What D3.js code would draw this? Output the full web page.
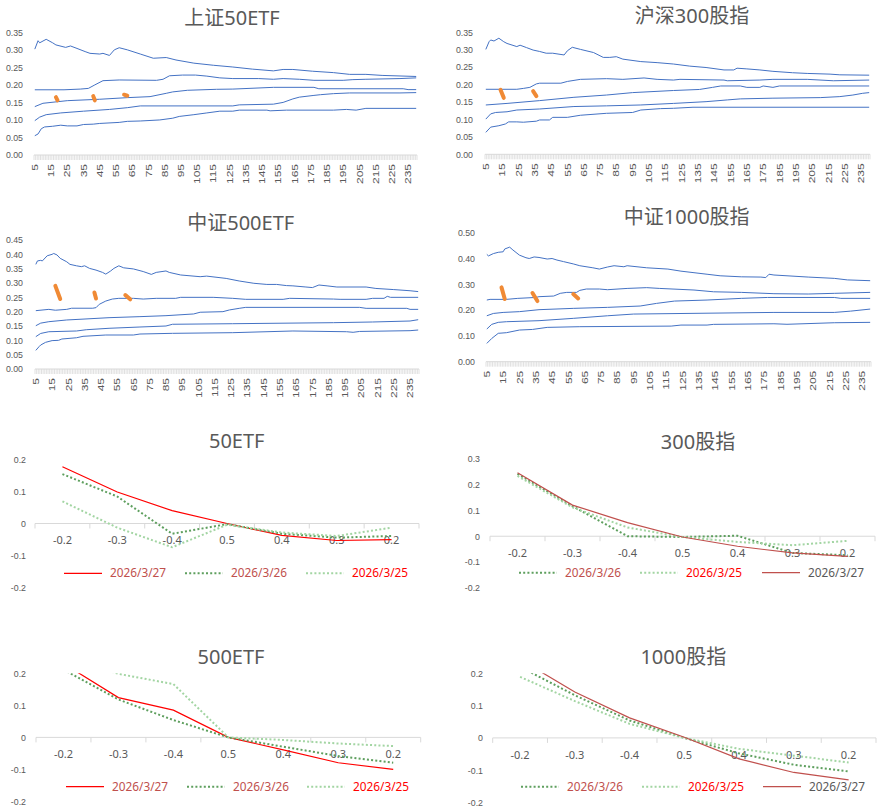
<!DOCTYPE html>
<html>
<head>
<meta charset="utf-8">
<script src="https://cdn.jsdelivr.net/npm/d3@7"></script>
<style>
  html, body { margin: 0; padding: 0; background: #fff; }
  svg { display: block; font-family: "Noto Sans", "Noto Sans CJK SC", sans-serif; }
  text { fill: #595959; }
</style>
</head>
<body>
<svg id="chart" width="881" height="811"></svg>
<script>
// ---- surface charts: [day, vol] pairs ----
const sz50Max = [[5,0.302],[7,0.326],[8,0.32],[12,0.33],[16,0.32],[18,0.314],[24,0.307],[27,0.311],[31,0.304],[36,0.295],[39,0.29],[45,0.288],[47,0.29],[51,0.284],[54,0.30],[57,0.306],[62,0.30],[70,0.288],[78,0.276],[86,0.278],[92,0.271],[103,0.262],[115,0.256],[127,0.251],[139,0.245],[152,0.24],[158,0.244],[164,0.244],[176,0.239],[189,0.235],[199,0.23],[209,0.23],[219,0.227],[240,0.224]];
const sz50Q75 = [[5,0.186],[23,0.186],[33,0.188],[38,0.19],[42,0.20],[47,0.212],[57,0.214],[80,0.213],[84,0.216],[88,0.226],[96,0.228],[104,0.228],[111,0.225],[119,0.22],[127,0.218],[143,0.218],[152,0.216],[158,0.218],[168,0.216],[177,0.213],[195,0.213],[201,0.215],[209,0.216],[230,0.218],[240,0.22]];
const sz50Mid = [[5,0.138],[10,0.1475],[25,0.155],[45,0.159],[62,0.1636],[76,0.1665],[86,0.176],[90,0.18],[99,0.1846],[117,0.1874],[127,0.188],[152,0.193],[177,0.193],[180,0.189],[232,0.189],[235,0.1865],[240,0.1865]];
const sz50Q25 = [[5,0.098],[8,0.108],[12,0.115],[21,0.12],[35,0.125],[51,0.13],[62,0.135],[70,0.14],[127,0.14],[131,0.143],[152,0.145],[158,0.15],[164,0.16],[168,0.165],[177,0.17],[181,0.172],[189,0.175],[199,0.177],[230,0.177],[240,0.178]];
const sz50Min = [[5,0.055],[7,0.06],[9,0.075],[11,0.08],[16,0.082],[21,0.085],[25,0.083],[31,0.083],[35,0.087],[41,0.088],[45,0.09],[57,0.093],[62,0.096],[70,0.097],[82,0.1],[90,0.105],[94,0.11],[103,0.115],[111,0.12],[119,0.125],[127,0.125],[131,0.128],[148,0.128],[150,0.126],[160,0.128],[189,0.128],[197,0.13],[203,0.128],[209,0.133],[240,0.133]];
const sz50Now = [[[18,0.165],[19,0.156]], [[41,0.168],[42,0.156]], [[60,0.172],[62,0.169]]];

const hs300Max = [[5,0.301],[7,0.323],[8,0.328],[10,0.325],[13,0.333],[16,0.323],[18,0.318],[24,0.309],[26,0.313],[30,0.306],[34,0.299],[38,0.295],[42,0.29],[46,0.29],[53,0.285],[55,0.297],[58,0.307],[63,0.301],[71,0.292],[77,0.278],[81,0.278],[85,0.28],[89,0.273],[100,0.266],[110,0.263],[120,0.259],[130,0.253],[140,0.249],[151,0.242],[157,0.242],[159,0.247],[165,0.245],[173,0.242],[181,0.238],[193,0.234],[202,0.232],[216,0.23],[222,0.228],[240,0.227]];
const hs300Q75 = [[5,0.1865],[24,0.1865],[28,0.189],[32,0.192],[36,0.202],[38,0.204],[51,0.204],[55,0.209],[63,0.215],[79,0.217],[89,0.215],[102,0.219],[110,0.215],[120,0.213],[124,0.215],[151,0.213],[153,0.211],[173,0.213],[181,0.215],[202,0.215],[218,0.211],[240,0.213]];
const hs300Mid = [[5,0.1415],[18,0.146],[38,0.154],[59,0.1635],[79,0.17],[95,0.177],[120,0.183],[136,0.186],[144,0.192],[149,0.196],[161,0.196],[165,0.192],[173,0.192],[175,0.196],[181,0.192],[185,0.196],[240,0.196]];
const hs300Q25 = [[5,0.101],[8,0.116],[11,0.12],[18,0.122],[24,0.127],[38,0.13],[59,0.137],[79,0.139],[100,0.1415],[120,0.146],[140,0.151],[153,0.156],[161,0.159],[181,0.161],[210,0.1626],[222,0.1655],[230,0.17],[236,0.175],[240,0.177]];
const hs300Min = [[5,0.063],[8,0.078],[13,0.082],[17,0.087],[19,0.093],[24,0.093],[28,0.092],[36,0.095],[38,0.0985],[44,0.0985],[46,0.106],[55,0.106],[63,0.112],[79,0.1176],[95,0.12],[100,0.127],[112,0.131],[120,0.132],[132,0.135],[240,0.135]];
const hs300Now = [[[14,0.185],[16,0.162]], [[34,0.181],[36,0.167]]];

const zz500Max = [[5,0.365],[6,0.377],[8,0.379],[9,0.377],[12,0.395],[15,0.4],[16,0.403],[18,0.398],[20,0.386],[24,0.374],[26,0.365],[30,0.36],[33,0.357],[35,0.36],[38,0.351],[42,0.345],[46,0.337],[48,0.331],[51,0.342],[53,0.351],[56,0.36],[59,0.353],[65,0.349],[71,0.34],[76,0.33],[79,0.337],[85,0.342],[87,0.337],[94,0.328],[106,0.322],[110,0.324],[122,0.316],[130,0.307],[139,0.299],[147,0.295],[153,0.295],[159,0.291],[163,0.29],[171,0.286],[175,0.284],[179,0.293],[184,0.29],[190,0.286],[208,0.286],[214,0.281],[225,0.277],[235,0.273],[240,0.27]];
const zz500Q75 = [[5,0.2035],[13,0.208],[17,0.205],[24,0.208],[27,0.212],[40,0.212],[42,0.214],[44,0.2256],[48,0.237],[52,0.244],[56,0.2465],[65,0.2465],[71,0.244],[79,0.2465],[91,0.2465],[94,0.25],[114,0.25],[126,0.2465],[134,0.243],[157,0.243],[161,0.2465],[188,0.244],[192,0.243],[208,0.243],[212,0.2465],[219,0.2465],[221,0.2535],[223,0.25],[240,0.25]];
const zz500Mid = [[5,0.151],[8,0.16],[13,0.165],[24,0.171],[34,0.174],[50,0.179],[69,0.1826],[85,0.186],[102,0.192],[106,0.198],[120,0.2],[124,0.206],[130,0.2116],[134,0.215],[204,0.215],[208,0.2116],[233,0.2116],[235,0.208],[240,0.208]];
const zz500Q25 = [[5,0.1128],[8,0.124],[13,0.13],[30,0.1326],[36,0.137],[50,0.142],[69,0.1465],[85,0.15],[89,0.156],[126,0.158],[188,0.1616],[212,0.164],[235,0.1674],[240,0.172]];
const zz500Min = [[5,0.065],[7,0.078],[8,0.0837],[11,0.093],[15,0.099],[19,0.1],[21,0.1046],[30,0.109],[34,0.114],[48,0.1186],[65,0.1186],[69,0.122],[89,0.1244],[126,0.1267],[163,0.1326],[196,0.13],[200,0.128],[204,0.131],[235,0.1337],[240,0.136]];
const zz500Now = [[[17,0.29],[20,0.244]], [[41,0.267],[42,0.246]], [[60,0.258],[63,0.243]]];

const zz1000Max = [[5,0.416],[6,0.41],[9,0.419],[12,0.424],[15,0.426],[16,0.437],[19,0.444],[21,0.433],[25,0.413],[29,0.403],[31,0.40],[34,0.406],[37,0.404],[42,0.398],[45,0.40],[48,0.394],[52,0.388],[58,0.379],[62,0.372],[70,0.364],[74,0.359],[79,0.367],[83,0.372],[89,0.368],[91,0.372],[103,0.364],[116,0.359],[124,0.351],[132,0.345],[140,0.339],[148,0.333],[161,0.329],[173,0.328],[176,0.326],[178,0.339],[181,0.336],[189,0.333],[202,0.328],[218,0.323],[226,0.317],[240,0.314]];
const zz1000Q75 = [[5,0.239],[7,0.2416],[17,0.2416],[24,0.2455],[35,0.249],[37,0.252],[46,0.2545],[50,0.265],[54,0.2687],[60,0.2687],[62,0.2765],[66,0.2817],[74,0.2817],[79,0.279],[91,0.284],[103,0.287],[111,0.284],[132,0.2778],[144,0.271],[161,0.2687],[181,0.2636],[202,0.2623],[218,0.265],[240,0.2687]];
const zz1000Mid = [[5,0.178],[9,0.187],[15,0.191],[25,0.194],[37,0.2016],[58,0.2067],[79,0.2106],[99,0.2158],[109,0.226],[120,0.235],[140,0.239],[161,0.2455],[177,0.249],[218,0.249],[222,0.2455],[240,0.2455]];
const zz1000Q25 = [[5,0.1266],[8,0.1447],[12,0.1525],[17,0.155],[37,0.159],[58,0.168],[79,0.178],[95,0.1847],[181,0.191],[218,0.191],[228,0.196],[240,0.204]];
const zz1000Min = [[5,0.071],[8,0.09],[12,0.11],[17,0.1124],[25,0.1227],[33,0.125],[42,0.133],[62,0.1357],[118,0.138],[124,0.142],[140,0.142],[144,0.1447],[181,0.147],[189,0.145],[218,0.151],[240,0.1525]];
const zz1000Now = [[[14,0.288],[16,0.243]], [[33,0.266],[36,0.235]], [[58,0.262],[61,0.245]]];

const dayCats = d3.range(5, 241);
const dayLabels = d3.range(5, 236, 10);

// ---- smile charts ----
const strikeLabels = ["-0.2", "-0.3", "-0.4", "0.5", "0.4", "0.3", "0.2"];
const etf50_0327 = [0.177, 0.098, 0.04, 0, -0.037, -0.053, -0.05];
const etf50_0326 = [0.154, 0.084, -0.032, -0.002, -0.032, -0.044, -0.039];
const etf50_0325 = [0.069, -0.013, -0.074, -0.004, -0.028, -0.039, -0.013];
const idx300_0326 = [0.242, 0.117, 0.0, -0.003, 0.002, -0.065, -0.074];
const idx300_0325 = [0.234, 0.112, 0.034, -0.003, -0.022, -0.035, -0.018];
const idx300_0327 = [0.247, 0.121, 0.053, -0.003, -0.039, -0.065, -0.078];
const etf500_0327 = [0.23, 0.124, 0.085, 0, -0.039, -0.079, -0.0995];
const etf500_0326 = [0.211, 0.118, 0.054, 0, -0.029, -0.058, -0.079];
const etf500_0325 = [0.25, 0.198, 0.166, 0, -0.008, -0.019, -0.027];
const idx1000_0326 = [0.22, 0.132, 0.054, 0, -0.048, -0.083, -0.104];
const idx1000_0325 = [0.189, 0.114, 0.0435, 0, -0.034, -0.055, -0.076];
const idx1000_0327 = [0.243, 0.142, 0.062, 0.002, -0.065, -0.107, -0.13];

const BLUE = "#4472C4", ORANGE = "#F08A35";
const RED = "#FF0000", DUSK = "#C0504D", DKGREEN = "#5E9F5E", LTGREEN = "#A3D5A3";
const AXIS = "#d9d9d9";

const svg = d3.select("#chart");

const surfaces = [
  {title: "上证50ETF", tx: 232, ty: 18, x0: 34, x1: 417, yBase: 155, yTop: 32.3, yMax: 0.35,
   ticks: d3.range(0, 0.351, 0.05), labelRight: 23,
   lines: [sz50Max, sz50Q75, sz50Mid, sz50Q25, sz50Min], now: sz50Now},
  {title: "沪深300股指", tx: 692, ty: 16, x0: 485, x1: 870, yBase: 154.3, yTop: 32.3, yMax: 0.35,
   ticks: d3.range(0, 0.351, 0.05), labelRight: 473,
   lines: [hs300Max, hs300Q75, hs300Mid, hs300Q25, hs300Min], now: hs300Now},
  {title: "中证500ETF", tx: 240.7, ty: 223, x0: 35, x1: 419, yBase: 369, yTop: 240, yMax: 0.45,
   ticks: d3.range(0, 0.451, 0.05), labelRight: 23,
   lines: [zz500Max, zz500Q75, zz500Mid, zz500Q25, zz500Min], now: zz500Now},
  {title: "中证1000股指", tx: 686.7, ty: 216.5, x0: 486, x1: 871, yBase: 361.7, yTop: 232.7, yMax: 0.5,
   ticks: d3.range(0, 0.501, 0.1), labelRight: 475,
   lines: [zz1000Max, zz1000Q75, zz1000Mid, zz1000Q25, zz1000Min], now: zz1000Now}
];

const smiles = [
  {title: "50ETF", tx: 236.7, ty: 440.5, x0: 35, x1: 419, yTop: 459.3, yBottom: 587.7, yDomain: [-0.2, 0.2],
   labelRight: 26, legendY: 573.3, legendX: [64, 185, 306],
   series: [
     {name: "2026/3/27", values: etf50_0327, color: RED, dotted: false, text: DUSK},
     {name: "2026/3/26", values: etf50_0326, color: DKGREEN, dotted: true, text: DUSK},
     {name: "2026/3/25", values: etf50_0325, color: LTGREEN, dotted: true, text: RED}]},
  {title: "300股指", tx: 698, ty: 442, x0: 490, x1: 875, yTop: 459, yBottom: 587.7, yDomain: [-0.2, 0.3],
   labelRight: 480, legendY: 572.7, legendX: [519, 640, 762],
   series: [
     {name: "2026/3/26", values: idx300_0326, color: DKGREEN, dotted: true, text: DUSK},
     {name: "2026/3/25", values: idx300_0325, color: LTGREEN, dotted: true, text: RED},
     {name: "2026/3/27", values: idx300_0327, color: DUSK, dotted: false, text: "#595959"}]},
  {title: "500ETF", tx: 231, ty: 656.7, x0: 36, x1: 420.7, yTop: 673.2, yBottom: 801.6, yDomain: [-0.2, 0.2],
   labelRight: 26, legendY: 786.7, legendX: [66, 187, 307],
   series: [
     {name: "2026/3/27", values: etf500_0327, color: RED, dotted: false, text: DUSK},
     {name: "2026/3/26", values: etf500_0326, color: DKGREEN, dotted: true, text: DUSK},
     {name: "2026/3/25", values: etf500_0325, color: LTGREEN, dotted: true, text: RED}]},
  {title: "1000股指", tx: 683.3, ty: 656.7, x0: 492.7, x1: 876, yTop: 673.3, yBottom: 802.5, yDomain: [-0.2, 0.2],
   labelRight: 483, legendY: 786.7, legendX: [521, 642, 763],
   series: [
     {name: "2026/3/26", values: idx1000_0326, color: DKGREEN, dotted: true, text: DUSK},
     {name: "2026/3/25", values: idx1000_0325, color: LTGREEN, dotted: true, text: RED},
     {name: "2026/3/27", values: idx1000_0327, color: DUSK, dotted: false, text: "#595959"}]}
];

function drawSurface(cfg) {
  const g = svg.append("g");
  const x = d3.scaleBand().domain(dayCats).range([cfg.x0, cfg.x1]);
  const y = d3.scaleLinear().domain([0, cfg.yMax]).range([cfg.yBase, cfg.yTop]);
  const cx = c => x(c) + x.bandwidth() / 2;

  g.append("text")
    .attr("x", cfg.tx).attr("y", cfg.ty).attr("dy", "0.35em")
    .attr("text-anchor", "middle").style("font-size", "20px")
    .text(cfg.title);

  const yAxis = g.append("g")
    .attr("transform", `translate(${cfg.labelRight + 4},0)`)
    .call(d3.axisLeft(y).tickValues(cfg.ticks).tickFormat(d3.format(".2f")).tickSize(0).tickPadding(4));
  yAxis.select(".domain").remove();
  yAxis.selectAll("text").style("font-size", "8.8px").attr("fill", "#595959");

  // category axis: light line with a tick at each category boundary
  g.append("line")
    .attr("x1", cfg.x0).attr("x2", cfg.x1).attr("y1", cfg.yBase).attr("y2", cfg.yBase)
    .attr("stroke", AXIS);
  g.append("g").selectAll("line")
    .data(dayCats.concat([null]))
    .join("line")
    .attr("x1", d => d === null ? cfg.x1 : x(d))
    .attr("x2", d => d === null ? cfg.x1 : x(d))
    .attr("y1", cfg.yBase).attr("y2", cfg.yBase + 5)
    .attr("stroke", AXIS).attr("stroke-width", 0.8);

  const xAxis = g.append("g")
    .attr("transform", `translate(0,${cfg.yBase})`)
    .call(d3.axisBottom(x).tickValues(dayLabels).tickSize(0));
  xAxis.select(".domain").remove();
  xAxis.selectAll("text")
    .attr("transform", "rotate(-90) scale(1.2,0.9)")
    .attr("text-anchor", "end")
    .attr("x", -7.5).attr("y", 0).attr("dy", "0.35em")
    .style("font-size", "10px").attr("fill", "#595959");

  const line = d3.line().x(d => cx(d[0])).y(d => y(d[1]));
  g.append("g").selectAll("path")
    .data(cfg.lines)
    .join("path")
    .attr("d", line)
    .attr("fill", "none").attr("stroke", BLUE).attr("stroke-width", 1);

  g.append("g").selectAll("path")
    .data(cfg.now)
    .join("path")
    .attr("d", line)
    .attr("fill", "none").attr("stroke", ORANGE)
    .attr("stroke-width", 4).attr("stroke-linecap", "round");
}

function drawSmile(cfg, idx) {
  const g = svg.append("g");
  const x = d3.scaleBand().domain(strikeLabels).range([cfg.x0, cfg.x1]);
  const y = d3.scaleLinear().domain(cfg.yDomain).range([cfg.yBottom, cfg.yTop]);
  const y0 = y(0);

  g.append("text")
    .attr("x", cfg.tx).attr("y", cfg.ty).attr("dy", "0.35em")
    .attr("text-anchor", "middle").style("font-size", "20px")
    .text(cfg.title);

  const yTicks = d3.range(Math.round(cfg.yDomain[0] * 10), Math.round(cfg.yDomain[1] * 10) + 1).map(d => d / 10);
  const yAxis = g.append("g")
    .attr("transform", `translate(${cfg.labelRight + 4},0)`)
    .call(d3.axisLeft(y).tickValues(yTicks)
      .tickFormat(d => d === 0 ? "0" : d.toFixed(1)).tickSize(0).tickPadding(4));
  yAxis.select(".domain").remove();
  yAxis.selectAll("text").style("font-size", "8.8px").attr("fill", "#595959");

  g.append("line")
    .attr("x1", cfg.x0).attr("x2", cfg.x1).attr("y1", y0).attr("y2", y0)
    .attr("stroke", AXIS);
  g.append("g").selectAll("line")
    .data(strikeLabels.concat([null]))
    .join("line")
    .attr("x1", d => d === null ? cfg.x1 : x(d))
    .attr("x2", d => d === null ? cfg.x1 : x(d))
    .attr("y1", y0).attr("y2", y0 + 5)
    .attr("stroke", AXIS);

  g.append("g").selectAll("text")
    .data(strikeLabels)
    .join("text")
    .attr("x", d => x(d) + x.bandwidth() / 2)
    .attr("y", y0 + 17).attr("dy", "0.35em")
    .attr("text-anchor", "middle").style("font-size", "11px")
    .text(d => d);

  const clipId = "clip" + idx;
  g.append("clipPath").attr("id", clipId)
    .append("rect")
    .attr("x", cfg.x0).attr("y", cfg.yTop)
    .attr("width", cfg.x1 - cfg.x0).attr("height", cfg.yBottom - cfg.yTop);

  const line = d3.line()
    .x((d, i) => x(strikeLabels[i]) + x.bandwidth() / 2)
    .y(d => y(d));

  g.append("g").attr("clip-path", `url(#${clipId})`)
    .selectAll("path")
    .data(cfg.series)
    .join("path")
    .attr("d", s => line(s.values))
    .attr("fill", "none")
    .attr("stroke", s => s.color)
    .attr("stroke-width", s => s.dotted ? 2 : 1.2)
    .attr("stroke-dasharray", s => s.dotted ? "2,2.2" : null);

  const legend = g.append("g").selectAll("g")
    .data(cfg.series)
    .join("g")
    .attr("transform", (s, i) => `translate(${cfg.legendX[i]},${cfg.legendY})`);
  legend.append("line")
    .attr("x1", 0).attr("x2", 38)
    .attr("stroke", s => s.color)
    .attr("stroke-width", s => s.dotted ? 2 : 1.2)
    .attr("stroke-dasharray", s => s.dotted ? "2,2.2" : null);
  legend.append("text")
    .attr("x", 46).attr("dy", "0.35em")
    .style("font-size", "11.8px")
    .style("fill", s => s.text)
    .text(s => s.name);
}

surfaces.forEach(drawSurface);
smiles.forEach(drawSmile);
</script>
</body>
</html>
